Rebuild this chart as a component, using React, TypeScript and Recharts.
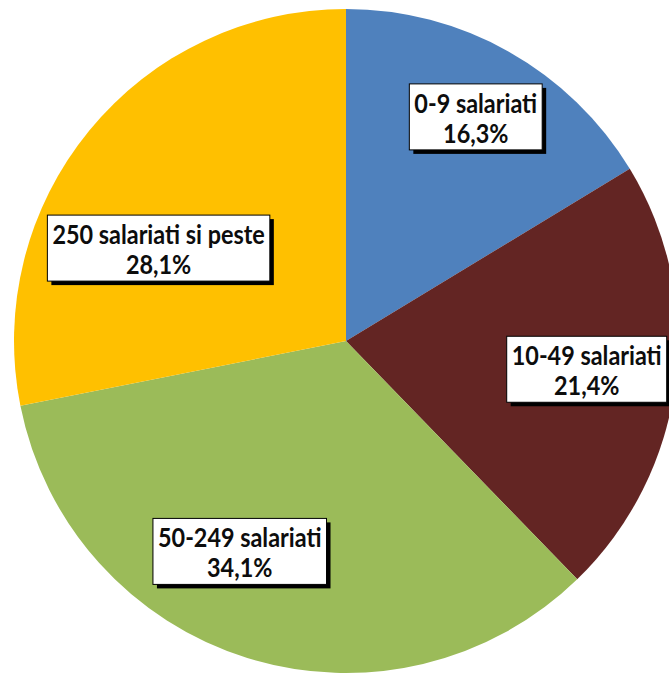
import React from 'react';
import { PieChart, Pie, Cell } from 'recharts';

const categories = ['0-9 salariati', '10-49 salariati', '50-249 salariati', '250 salariati si peste'];
const shares = [16.3, 21.4, 34.1, 28.1];
const sliceColors = ['#4f81bd', '#632523', '#9bbb59', '#ffc000'];

const data = categories.map((name, i) => ({ name, value: shares[i] }));

// Excel "best fit" placement, approximated: [radius fraction, angle shift in deg]
const LABEL_PLACE: [number, number][] = [
  [0.78, 0.7],
  [0.73, -0.6],
  [0.71, 9.5],
  [0.63, -13],
];

const FONT = 'bold 26px Lato';
const SQUEEZE = 0.9; // Calibri is narrower than Lato
const RAD = Math.PI / 180;

let ctx: CanvasRenderingContext2D | null = null;
const measure = (s: string) => {
  if (!ctx) ctx = document.createElement('canvas').getContext('2d');
  if (!ctx) return s.length * 10;
  ctx.font = FONT;
  return ctx.measureText(s).width * SQUEEZE;
};

const fmt = (v: number) => v.toFixed(1).replace('.', ',') + '%';

const renderLabel = (props: any) => {
  const { cx, cy, midAngle, outerRadius, index, name, value } = props;
  const [f, shift] = LABEL_PLACE[index];
  const a = (midAngle - shift) * RAD;
  const r = outerRadius * f;
  const x = cx + r * Math.cos(-a);
  const y = cy + r * Math.sin(-a);
  const line2 = fmt(value);
  const w = Math.max(measure(name), measure(line2)) + 10;
  const h = 66;
  return (
    <g key={`lbl-${index}`}>
      <rect x={x - w / 2 + 4} y={y - h / 2 + 4} width={w} height={h} fill="#000" />
      <rect x={x - w / 2} y={y - h / 2} width={w} height={h} fill="#fff" stroke="#000" strokeWidth={1} />
      <g transform={`translate(${x},${y}) scale(${SQUEEZE},1)`}>
        <text x={0} y={-14} textAnchor="middle" dominantBaseline="central"
          style={{ font: FONT, fill: '#0d0d0d' }}>{name}</text>
        <text x={0} y={16} textAnchor="middle" dominantBaseline="central"
          style={{ font: FONT, fill: '#0d0d0d' }}>{line2}</text>
      </g>
    </g>
  );
};

export default function App() {
  return (
    <div style={{ position: 'absolute', left: 0, top: 0, width: 669, height: 675, background: '#fff' }}>
      <PieChart width={669} height={675} margin={{ top: 0, right: 0, bottom: 0, left: 0 }}>
        <Pie
          data={data}
          dataKey="value"
          nameKey="name"
          cx={346}
          cy={341}
          outerRadius={332}
          startAngle={90}
          endAngle={-270}
          stroke="none"
          isAnimationActive={false}
          labelLine={false}
          label={renderLabel}
        >
          {data.map((d, i) => (
            <Cell key={`cell-${i}`} fill={sliceColors[i]} />
          ))}
        </Pie>
      </PieChart>
    </div>
  );
}
